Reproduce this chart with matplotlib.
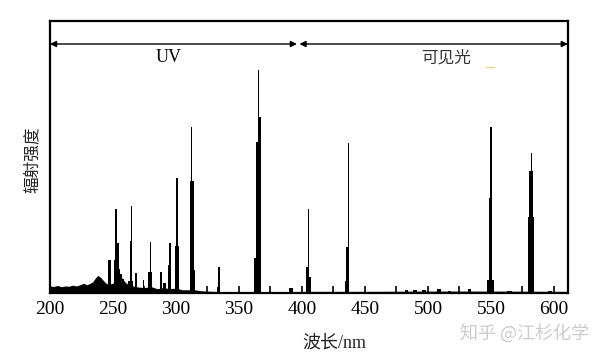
import matplotlib
matplotlib.use('Agg')
import matplotlib.pyplot as plt

# continuum / background emission (wavelength nm, relative intensity)
cont_wl = [200, 203, 206, 209, 212, 215, 218, 221, 224, 227, 229, 232, 234, 236,
           238, 240, 242, 244, 246, 250, 252, 254, 256, 258, 260, 263, 266, 270,
           275, 280, 285, 290, 295, 300, 305, 310, 315, 320, 330, 340, 360, 380,
           400, 450, 500, 550, 611]
cont_lvl = [2.6, 2.4, 2.8, 2.3, 2.6, 2.5, 2.9, 2.6, 3.1, 3.6, 3.0, 3.6, 4.2, 5.5,
            6.5, 5.8, 4.8, 3.8, 3.2, 3.6, 5.5, 7.0, 6.2, 5.0, 3.8, 3.0, 2.6, 2.2,
            2.0, 2.4, 1.6, 2.0, 1.6, 1.8, 1.2, 1.2, 1.2, 0.8, 0.6, 0.5, 0.5, 0.5,
            0.6, 0.6, 0.7, 0.7, 0.6]

# emission lines: centre, height, width (nm)
line_wl = [247.5, 251.5, 252.5, 253.3, 255, 256.5, 258,
           263.8, 264.3, 264.6, 268.2, 274.3, 279.4, 279.8, 288, 291,
           295, 295.4, 300.8, 300.6, 300.8, 312.4, 312.2, 314.2, 334, 334,
           364, 364.7, 365.5, 366.6, 391,
           404.5, 405.3, 406.6, 435.3, 436.2, 436.8,
           483, 490, 497, 509, 517, 533,
           549.6, 549.3, 549.8, 550.8, 565, 581.6, 581.9, 582.2, 583.3, 597]
line_h = [12, 12, 31, 18.4, 9, 7, 5,
          4.5, 19, 32, 7.5, 4.8, 7.7, 18.8, 7.8, 3.7,
          10.3, 18.5, 7.3, 17.3, 42.4, 41, 61, 8.5, 2.2, 9.7,
          13, 55.5, 82, 64.7, 2,
          9.5, 31, 6, 4.5, 17, 55,
          1.0, 1.3, 1.2, 1.6, 0.9, 1.6,
          4.8, 35, 61, 4.8, 0.8, 28, 45, 51.6, 6.6, 0.9]
line_w = [2.6, 1.5, 1.3, 2.2, 1.5, 1.5, 2,
          3.7, 2.2, 1.3, 1.3, 1.3, 2.5, 1.3, 1.3, 2,
          2.5, 1.3, 3.5, 3.0, 1.3, 3.3, 1.3, 1.5, 2.5, 1.3,
          3.5, 1.6, 1.3, 2.0, 3,
          2.5, 1.3, 1.5, 2.5, 2.5, 1.3,
          3, 3, 3, 3, 3, 3,
          5, 2.0, 1.3, 1.5, 4, 4.5, 3.0, 1.3, 2.0, 3]

xticks = [200, 250, 300, 350, 400, 450, 500, 550, 600]

plt.rcParams['font.family'] = ['Liberation Serif', 'Noto Sans CJK SC', 'DejaVu Sans']
cjk = ['Noto Sans CJK SC', 'DejaVu Sans']

fig = plt.figure(figsize=(6.05, 3.6), dpi=100)
ax = fig.add_axes([0.0826, 0.186, 0.856, 0.756])

ax.fill_between(cont_wl, 0, cont_lvl, color='black', lw=0)
ax.bar(line_wl, line_h, width=line_w, color='black', lw=0)

ax.set_xlim(200, 611)
ax.set_ylim(0, 100)
ax.set_yticks([])
ax.set_xticks(xticks)
ax.set_xticks(range(225, 611, 50), minor=True)
ax.tick_params(axis='x', which='both', direction='in', length=5, width=1.2,
               labelsize=14, pad=6)
for s in ax.spines.values():
    s.set_linewidth(1.6)

# UV / visible arrows
arrow = dict(arrowstyle='<|-|>', color='black', lw=1.0,
             mutation_scale=9, shrinkA=0, shrinkB=0)
ax.annotate('', xy=(200, 91.5), xytext=(396, 91.5), arrowprops=arrow)
ax.annotate('', xy=(398, 91.5), xytext=(611, 91.5), arrowprops=arrow)
ax.text(294, 86.5, 'UV', ha='center', va='center', fontsize=13)
ax.text(514, 86.5, '可见光', ha='center', va='center', fontsize=12,
        family=cjk, color='#333333')
ax.plot([546, 552], [83.0, 83.0], color='#e6d98a', lw=1)

fig.text(32 / 605, 1 - 160 / 360, '辐射强度', rotation=90, ha='center',
         va='center', fontsize=12, family=cjk, color='#222222')
fig.text(334 / 605, 1 - 343 / 360, '波长/nm', ha='center', va='center',
         fontsize=13, color='#222222')
fig.text(525 / 605, 1 - 333 / 360, '知乎 @江杉化学', ha='center', va='center',
         fontsize=13, family=cjk, color='#cccccc')

fig.savefig('out.png', dpi=100)
